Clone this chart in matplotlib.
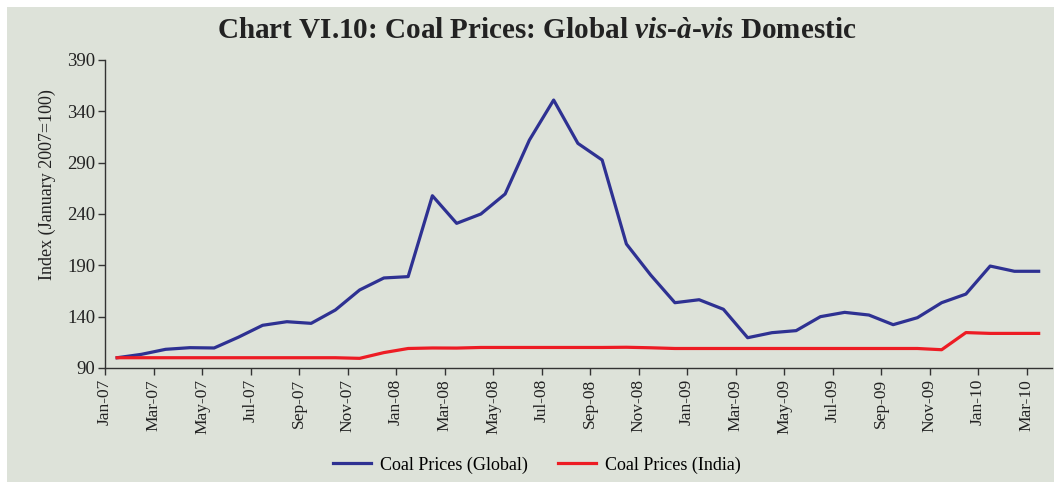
import matplotlib
matplotlib.use("Agg")
import matplotlib.pyplot as plt
from matplotlib.patches import Rectangle

months = ["Jan-07", "Feb-07", "Mar-07", "Apr-07", "May-07", "Jun-07", "Jul-07", "Aug-07", "Sep-07", "Oct-07",
          "Nov-07", "Dec-07", "Jan-08", "Feb-08", "Mar-08", "Apr-08", "May-08", "Jun-08", "Jul-08", "Aug-08",
          "Sep-08", "Oct-08", "Nov-08", "Dec-08", "Jan-09", "Feb-09", "Mar-09", "Apr-09", "May-09", "Jun-09",
          "Jul-09", "Aug-09", "Sep-09", "Oct-09", "Nov-09", "Dec-09", "Jan-10", "Feb-10", "Mar-10"]

global_prices = [100, 103.3, 108.2, 109.8, 109.5, 120, 131.6, 135.1, 133.5, 146.5,
                 166, 177.7, 179, 257.8, 230.9, 240, 259.5, 312, 351, 308.8,
                 292.6, 210.8, 180.6, 153.6, 156.5, 147.2, 119.5, 124.4, 126.4, 140,
                 144.2, 141.6, 132.2, 139, 153.6, 162, 189.3, 184.2, 184.2]

india_prices = [100, 100, 100, 100, 100, 100, 100, 100, 100, 100,
                99.4, 105, 109, 109.5, 109.4, 110, 110, 110, 110, 110,
                110, 110.2, 109.7, 109, 109, 109, 109, 109, 109, 109,
                109, 109, 109, 109, 107.8, 124.5, 123.7, 123.7, 123.7]

y_ticks = [90, 140, 190, 240, 290, 340, 390]

BG = "#DDE2D9"
BLUE = "#2E3192"
RED = "#ED1C24"
SERIF = ["Liberation Serif", "DejaVu Serif"]

plt.rcParams["font.family"] = SERIF
plt.rcParams["mathtext.fontset"] = "custom"
plt.rcParams["mathtext.rm"] = "Liberation Serif"
plt.rcParams["mathtext.it"] = "Liberation Serif:italic"
plt.rcParams["mathtext.bf"] = "Liberation Serif:bold"
plt.rcParams["mathtext.bfit"] = "Liberation Serif:italic:bold"

fig = plt.figure(figsize=(10.54, 4.82), dpi=100, facecolor="white")
fig.patches.append(Rectangle((7 / 1054, 0), 1 - 7 / 1054, 1 - 7 / 482, transform=fig.transFigure,
                             facecolor=BG, edgecolor="none", zorder=-10))

ax = fig.add_axes([105 / 1054, 1 - 368 / 482, (1052 - 105) / 1054, (368 - 60) / 482])
ax.patch.set_alpha(0)

x = list(range(len(months)))
ax.plot(x, global_prices, color=BLUE, lw=2.3, label="Coal Prices (Global)")
ax.plot(x, india_prices, color=RED, lw=2.3, label="Coal Prices (India)")

ax.set_xlim(-0.5, len(months) - 0.45)
ax.set_ylim(90, 390)
ax.set_yticks(y_ticks)
ax.set_yticklabels([str(v) for v in y_ticks], fontsize=13.5)

tick_pos = [i - 0.5 for i in range(0, len(months), 2)]
ax.set_xticks(tick_pos)
ax.set_xticklabels([months[i] for i in range(0, len(months), 2)], rotation=90, fontsize=12.5)

for s in ["top", "right"]:
    ax.spines[s].set_visible(False)
for s in ["left", "bottom"]:
    ax.spines[s].set_color("#333333")
    ax.spines[s].set_linewidth(1.0)
ax.tick_params(axis="both", direction="out", length=5, width=1, color="#333333", labelcolor="#222222")
ax.tick_params(axis="y", pad=2)
ax.tick_params(axis="x", pad=3)

ax.set_ylabel("Index (January 2007=100)", fontsize=13, color="#222222")
ax.yaxis.set_label_coords(-0.052, 0.594)

fig.text(537 / 1054, 1 - 31 / 482,
         "Chart VI.10: Coal Prices: Global $\\mathbfit{vis}$-$\\mathbfit{\u00e0}$-$\\mathbfit{vis}$ Domestic",
         ha="center", va="center", fontsize=21, fontweight="bold", color="#222222")

leg = fig.legend(loc="center", bbox_to_anchor=(537 / 1054, 1 - 465 / 482), ncol=2, frameon=False,
                 fontsize=13, handlelength=2.1, columnspacing=1.7, handletextpad=0.5)

fig.savefig("out.png", dpi=100, facecolor="white")
